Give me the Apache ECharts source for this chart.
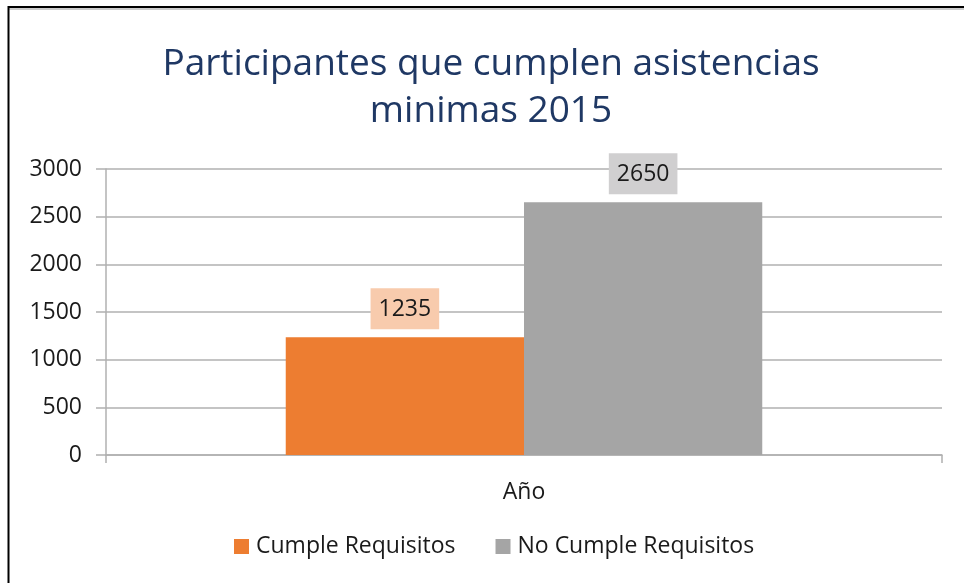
<!DOCTYPE html>
<html>
<head>
<meta charset="utf-8">
<script src="https://cdn.jsdelivr.net/npm/echarts@6/dist/echarts.min.js"></script>
<style>
  html, body { margin: 0; padding: 0; background: #fff; }
  #chart { width: 964px; height: 583px; }
</style>
</head>
<body>
<div id="chart"></div>
<script>
// Attendance data for 2015
const categories = ['Año'];
const seriesNames = ['Cumple Requisitos', 'No Cumple Requisitos'];
const cumpleValues = [1235];
const noCumpleValues = [2650];
const yTicks = [0, 500, 1000, 1500, 2000, 2500, 3000];

const FONT = '"Open Sans", sans-serif';
const chart = echarts.init(document.getElementById('chart'), null, { renderer: 'canvas' });

function labelStyle(bg) {
  return {
    show: true,
    position: 'top',
    distance: 8,
    fontFamily: FONT,
    fontSize: 23,
    color: '#1a1a1a',
    backgroundColor: bg,
    padding: [10, 8, 8, 8]
  };
}

chart.setOption({
  backgroundColor: '#fff',
  animation: false,
  title: {
    text: 'Participantes que cumplen asistencias\nminimas 2015',
    left: 486,
    textAlign: 'center',
    top: 36,
    textStyle: {
      fontFamily: FONT,
      fontSize: 37,
      fontWeight: 'normal',
      color: '#1f3864',
      lineHeight: 47
    }
  },
  legend: {
    bottom: 20,
    left: 229,
    itemWidth: 15,
    itemHeight: 15,
    itemGap: 40,
    icon: 'rect',
    textStyle: { fontFamily: FONT, fontSize: 23, color: '#1a1a1a', padding: [0, 0, 0, 2] },
    data: seriesNames
  },
  grid: { left: 106, right: 22, top: 169, bottom: 128, containLabel: false },
  xAxis: {
    type: 'category',
    data: categories,
    axisLine: { lineStyle: { color: '#b0b0b0', width: 1.5 } },
    axisTick: { show: true, length: 8, lineStyle: { color: '#b0b0b0', width: 1.5 } },
    axisLabel: { fontFamily: FONT, fontSize: 23, color: '#1a1a1a', margin: 26 }
  },
  yAxis: {
    type: 'value',
    min: yTicks[0],
    max: yTicks[yTicks.length - 1],
    interval: yTicks[1] - yTicks[0],
    axisLine: { show: true, lineStyle: { color: '#b0b0b0', width: 1.5 } },
    axisTick: { show: true, length: 10, lineStyle: { color: '#b0b0b0', width: 1.5 } },
    splitLine: { lineStyle: { color: '#b0b0b0', width: 1.5 } },
    axisLabel: {
      fontFamily: FONT, fontSize: 23, color: '#1a1a1a', margin: 24,
      formatter: v => String(v)
    }
  },
  series: [
    {
      name: seriesNames[0],
      type: 'bar',
      data: cumpleValues,
      barGap: '0%',
      barCategoryGap: '43%',
      itemStyle: { color: '#ed7d31' },
      label: labelStyle('#f8cbad')
    },
    {
      name: seriesNames[1],
      type: 'bar',
      data: noCumpleValues,
      itemStyle: { color: '#a5a5a5' },
      label: labelStyle('#d0cfd0')
    }
  ],
  graphic: [
    { type: 'line', shape: { x1: 8, y1: 7, x2: 964, y2: 7 }, style: { stroke: '#000', lineWidth: 2 } },
    { type: 'line', shape: { x1: 8, y1: 9, x2: 964, y2: 9 }, style: { stroke: '#9a9a9a', lineWidth: 1 } },
    { type: 'line', shape: { x1: 8.5, y1: 6, x2: 8.5, y2: 583 }, style: { stroke: '#000', lineWidth: 2 } }
  ]
});
</script>
</body>
</html>
